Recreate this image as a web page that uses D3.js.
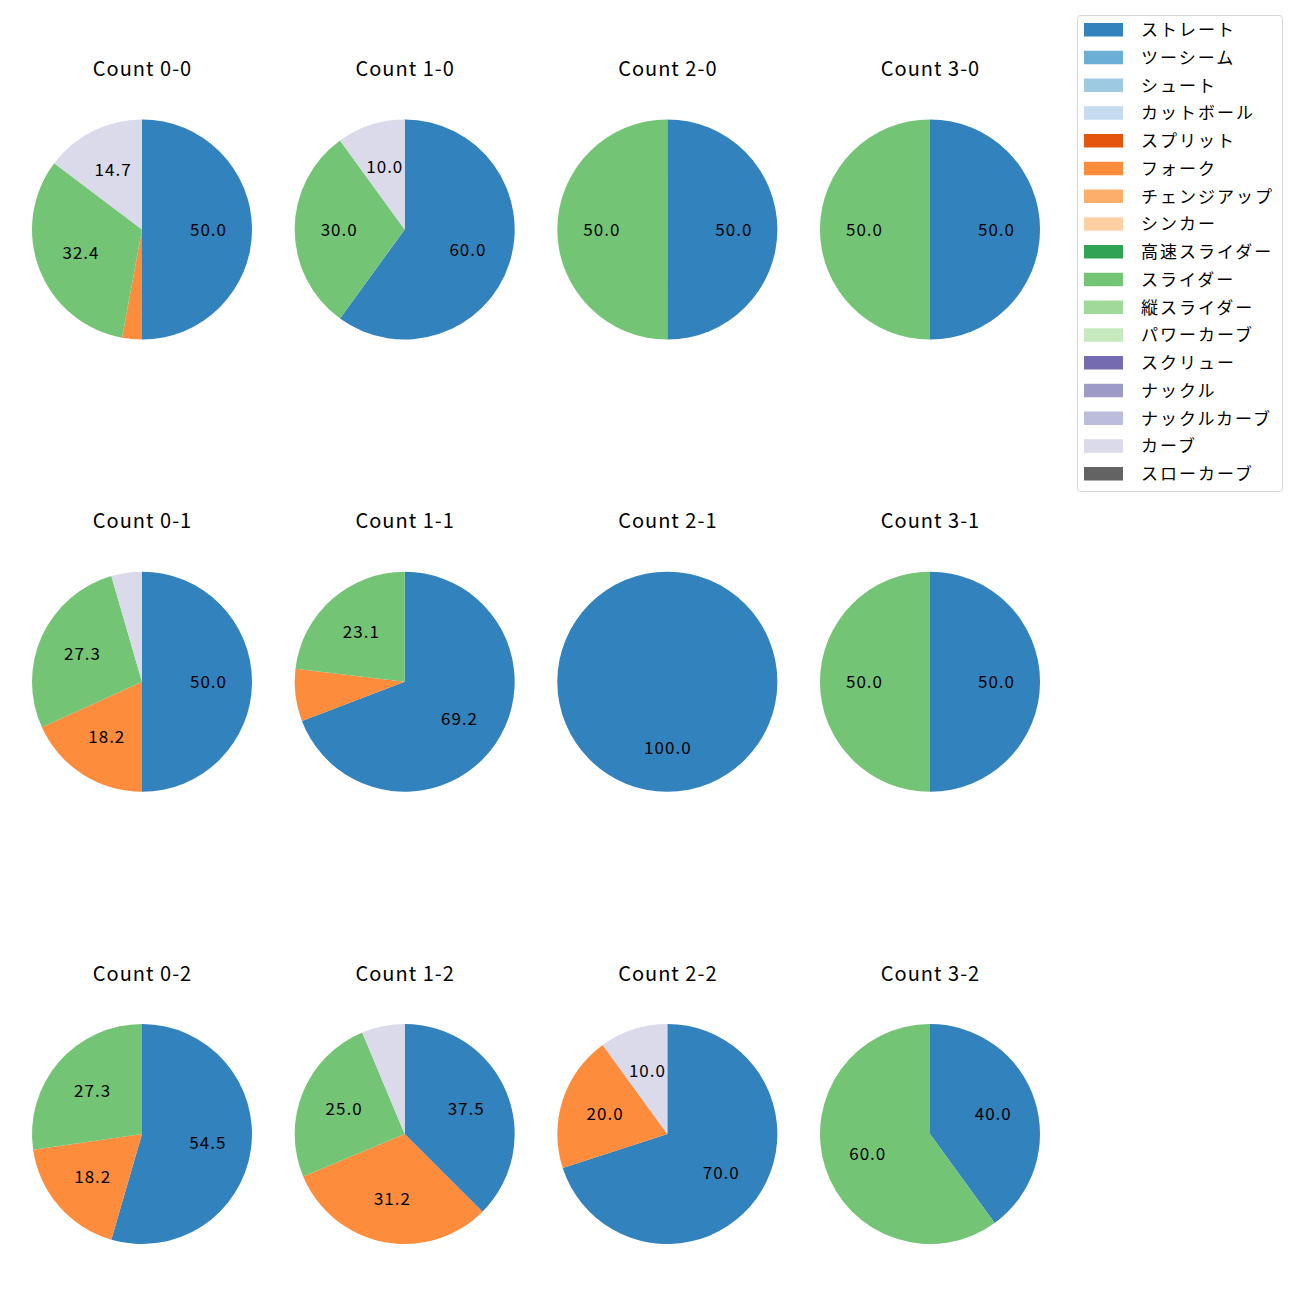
<!DOCTYPE html>
<html><head><meta charset="utf-8">
<script src="https://cdn.jsdelivr.net/npm/d3@7"></script>
<style>body{margin:0;background:#fff}</style>
</head><body>
<svg id="c" width="1300" height="1300"></svg>
<script>
const pitchTypes = ["ストレート","ツーシーム","シュート","カットボール","スプリット","フォーク","チェンジアップ","シンカー","高速スライダー","スライダー","縦スライダー","パワーカーブ","スクリュー","ナックル","ナックルカーブ","カーブ","スローカーブ"];
const pitchColors = ["#3182bd","#6baed6","#9ecae1","#c6dbef","#e6550d","#fd8d3c","#fdae6b","#fdd0a2","#31a354","#74c476","#a1d99b","#c7e9c0","#756bb1","#9e9ac8","#bcbddc","#dadaeb","#636363"];
const counts = ["0-0","1-0","2-0","3-0","0-1","1-1","2-1","3-1","0-2","1-2","2-2","3-2"];
// values per count (percent)
const straightVals = [50.0, 60.0, 50.0, 50.0, 50.0, 69.2, 100.0, 50.0, 54.5, 37.5, 70.0, 40.0];
const forkVals     = [2.9,  0,    0,    0,    18.2, 7.7,  0,     0,    18.2, 31.2, 20.0, 0];
const sliderVals   = [32.4, 30.0, 50.0, 50.0, 27.3, 23.1, 0,     50.0, 27.3, 25.0, 0,    60.0];
const curveVals    = [14.7, 10.0, 0,    0,    4.5,  0,    0,     0,    0,    6.3,  10.0, 0];

const svg = d3.select("#c");
const font = "'Noto Sans CJK JP', 'DejaVu Sans', sans-serif";
const color = d3.scaleOrdinal().domain(pitchTypes).range(pitchColors);
const colX = d3.scalePoint().domain([0,1,2,3]).range([142, 930]);
const rowY = d3.scalePoint().domain([0,1,2]).range([229.5, 1134]);
const R = 110;
const pie = d3.pie().sort(null).value(d => d.v).startAngle(0).endAngle(2*Math.PI);
const arc = d3.arc().innerRadius(0).outerRadius(R);
const labelArc = d3.arc().innerRadius(R*0.6).outerRadius(R*0.6);

counts.forEach((c, i) => {
  const cx = colX(i % 4), cy = rowY(Math.floor(i / 4));
  const data = [
    {k: "ストレート", v: straightVals[i]},
    {k: "フォーク", v: forkVals[i]},
    {k: "スライダー", v: sliderVals[i]},
    {k: "カーブ", v: curveVals[i]}
  ].filter(d => d.v > 0);
  const total = d3.sum(data, d => d.v);
  const g = svg.append("g").attr("transform", `translate(${cx},${cy})`);
  const arcs = pie(data);
  g.selectAll("path").data(arcs).join("path")
    .attr("d", arc).attr("fill", d => color(d.data.k));
  g.selectAll("text").data(arcs.filter(d => d.data.v / total * 100 >= 10)).join("text")
    .attr("transform", d => { const p = labelArc.centroid(d); return `translate(${p[0] + 0.5},${p[1] - 1.5})`; })
    .attr("text-anchor", "middle").attr("dominant-baseline", "central")
    .attr("font-family", font).attr("font-size", 17).attr("letter-spacing", 1).attr("fill", "#000")
    .text(d => (d.data.v / total * 100).toFixed(1));
  svg.append("text").attr("x", cx + 0.5).attr("y", cy - 162)
    .attr("text-anchor", "middle").attr("dominant-baseline", "central")
    .attr("font-family", font).attr("font-size", 20).attr("letter-spacing", 1).attr("fill", "#000")
    .text("Count " + c);
});

// legend
const lg = svg.append("g");
lg.append("rect").attr("x", 1077.5).attr("y", 15.5).attr("width", 205).attr("height", 476)
  .attr("rx", 3).attr("fill", "#fff").attr("stroke", "#d6d6d6");
const ly = d3.scaleLinear().domain([0, pitchTypes.length - 1]).range([29.5, 473.5]);
pitchTypes.forEach((p, i) => {
  lg.append("rect").attr("x", 1084).attr("y", ly(i) - 6.5).attr("width", 39).attr("height", 13.5)
    .attr("fill", color(p));
  lg.append("text").attr("x", 1141).attr("y", ly(i) - 1).attr("dominant-baseline", "central")
    .attr("font-family", font).attr("font-size", 17).attr("letter-spacing", 2).attr("fill", "#000").text(p);
});
</script>
</body></html>
